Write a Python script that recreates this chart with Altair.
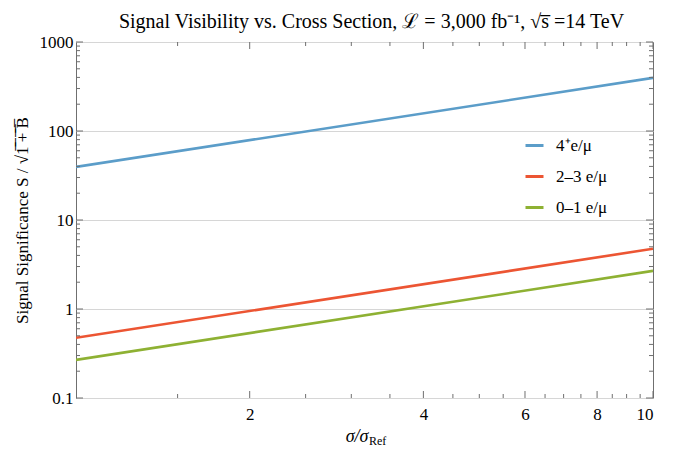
import altair as alt
import pandas as pd

# ---- data ----
x_vals = [1, 10]
series_4p = [39.5, 395]
series_23 = [0.475, 4.75]
series_01 = [0.268, 2.68]
labels = ["4\u207ae/\u03bc", "2\u20133 e/\u03bc", "0\u20131 e/\u03bc"]
colors = ["#5B9DC9", "#EC5533", "#8EB133"]

x_major = [2, 4, 6, 8, 10]
x_minor = [1.5, 2.5, 3, 3.5, 4.5, 5, 5.5, 6.5, 7, 7.5, 8.5, 9, 9.5]
y_major = [0.1, 1, 10, 100, 1000]
y_minor = [m * d for d in [0.1, 1, 10, 100] for m in [2, 3, 4, 5, 6, 7, 8, 9]]

title_text = "Signal Visibility vs. Cross Section,  \u2112 = 3,000 fb\u207b\u00b9,  \u221as\u0305 =14 TeV"
y_title = "Signal Significance  S / \u221a1\u0305 \u0305+\u0305 \u0305B\u0305"

W, H = 577, 356
FONT = "Liberation Serif"
FRAME = "#6f6f6f"

rows = []
for lab, ys in zip(labels, [series_4p, series_23, series_01]):
    for xv, yv in zip(x_vals, ys):
        rows.append({"x": xv, "y": yv, "series": lab})
df = pd.DataFrame(rows)

xs = alt.Scale(type="log", domain=[1, 10], nice=False)
ys = alt.Scale(type="log", domain=[0.1, 1000], nice=False)

lines = alt.Chart(df).mark_line(strokeWidth=2.6, clip=True).encode(
    x=alt.X("x:Q", scale=xs, axis=alt.Axis(
        values=x_major, format="~g", grid=False, ticks=False, domain=False,
        labelFont=FONT, labelFontSize=17, labelColor="black", labelPadding=8,
        title=None)),
    y=alt.Y("y:Q", scale=ys, axis=alt.Axis(
        values=y_major, format="~g", grid=True, gridColor="#d6d6d6", gridWidth=1,
        ticks=False, domain=False,
        labelFont=FONT, labelFontSize=17, labelColor="black", labelPadding=3,
        title=y_title,
        titleFont=FONT, titleFontSize=17, titleFontWeight="normal",
        titleColor="black", titlePadding=8)),
    color=alt.Color("series:N", scale=alt.Scale(domain=labels, range=colors),
                    legend=alt.Legend(
                        title=None, orient="none", legendX=448, legendY=93,
                        symbolType="stroke", symbolSize=324, symbolStrokeWidth=3,
                        labelFont=FONT, labelFontSize=17, labelColor="black",
                        labelOffset=11, rowPadding=12)),
)


def tick_layer(vals, axis, length):
    d = pd.DataFrame({axis: vals})
    if axis == "x":
        enc_a = dict(x=alt.X("x:Q", scale=xs), y=alt.value(H), y2=alt.value(H - length))
        enc_b = dict(x=alt.X("x:Q", scale=xs), y=alt.value(0), y2=alt.value(length))
    else:
        enc_a = dict(y=alt.Y("y:Q", scale=ys), x=alt.value(0), x2=alt.value(length))
        enc_b = dict(y=alt.Y("y:Q", scale=ys), x=alt.value(W), x2=alt.value(W - length))
    a = alt.Chart(d).mark_rule(color=FRAME, strokeWidth=1).encode(**enc_a)
    b = alt.Chart(d).mark_rule(color=FRAME, strokeWidth=1).encode(**enc_b)
    return [a, b]


ticks = (tick_layer(x_major, "x", 7) + tick_layer(x_minor, "x", 4)
         + tick_layer(y_major, "y", 7) + tick_layer(y_minor, "y", 4))

one = pd.DataFrame({"a": [0]})
xt1 = alt.Chart(one).mark_text(font=FONT, fontSize=18, fontStyle="italic",
                               align="right", baseline="alphabetic",
                               color="black").encode(
    x=alt.value(W / 2 + 4), y=alt.value(H + 44), text=alt.value("\u03c3/\u03c3"))
xt2 = alt.Chart(one).mark_text(font=FONT, fontSize=12, align="left",
                               baseline="alphabetic", color="black").encode(
    x=alt.value(W / 2 + 4.5), y=alt.value(H + 47), text=alt.value("Ref"))
ttl = alt.Chart(one).mark_text(font=FONT, fontSize=20, align="center",
                               baseline="alphabetic", color="black").encode(
    x=alt.value(W / 2 + 7), y=alt.value(-14), text=alt.value(title_text))

chart = alt.layer(lines, *ticks, xt1, xt2, ttl).properties(
    width=W, height=H,
    autosize=alt.AutoSizeParams(type="none"),
    padding={"left": 68, "top": 34, "right": 15, "bottom": 51},
).configure_view(stroke=FRAME, strokeWidth=1)

chart.save("out.html", embed_options={"renderer": "svg", "actions": False})
